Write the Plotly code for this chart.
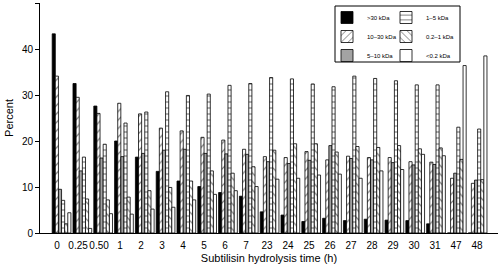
import plotly.graph_objects as go

cats = ["0", "0.25", "0.50", "1", "2", "3", "4", "5", "6", "7", "23", "24",
        "25", "26", "27", "28", "29", "30", "31", "47", "48"]

gt30 = [43.3, 32.5, 27.6, 20.0, 16.5, 13.4, 11.3, 10.1, 8.8, 8.0, 4.6, 3.9,
        2.5, 3.2, 2.7, 3.0, 2.8, 2.7, 2.0, 0, 0]
k10_30 = [34.1, 29.5, 26.0, 28.2, 25.9, 22.8, 22.2, 20.8, 20.2, 18.2, 16.6, 16.4,
          17.7, 15.9, 16.7, 16.4, 16.4, 15.5, 15.4, 11.9, 10.8]
k5_10 = [9.5, 13.5, 16.3, 16.6, 17.3, 18.0, 18.2, 17.3, 17.2, 17.1, 15.5, 15.1,
         15.8, 19.0, 16.2, 15.9, 15.3, 14.8, 14.9, 13.0, 11.5]
k1_5 = [7.1, 16.5, 19.3, 23.9, 26.3, 30.7, 29.9, 30.2, 32.1, 32.5, 33.8, 33.5,
        32.4, 31.8, 34.1, 33.6, 33.1, 32.2, 32.2, 23.0, 22.6]
k02_1 = [2.0, 7.4, 7.2, 7.8, 9.2, 9.9, 11.3, 13.5, 13.0, 14.4, 18.0, 19.4,
         19.4, 17.6, 18.8, 18.6, 19.0, 18.3, 18.5, 16.0, 11.6]
lt02 = [4.4, 1.0, 4.2, 4.1, 5.2, 5.6, 7.2, 8.4, 9.2, 10.1, 11.7, 11.9,
        12.6, 12.8, 11.9, 13.5, 13.8, 17.1, 16.8, 36.4, 38.5]

series = [
    (">30 kDa", gt30, dict(color="black"), "legend"),
    ("10\u201330 kDa", k10_30, dict(color="white", pattern=dict(shape="/", fgcolor="black", bgcolor="white", size=6, solidity=0.2)), "legend"),
    ("5\u201310 kDa", k5_10, dict(color="#a3a3a3"), "legend"),
    ("1\u20135 kDa", k1_5, dict(color="white", pattern=dict(shape="-", fgcolor="black", bgcolor="white", size=6, solidity=0.2)), "legend2"),
    ("0.2\u20131 kDa", k02_1, dict(color="white", pattern=dict(shape="\\", fgcolor="black", bgcolor="white", size=6, solidity=0.2)), "legend2"),
    ("<0.2 kDa", lt02, dict(color="white"), "legend2"),
]

xpos = list(range(len(cats)))
fig = go.Figure()
for name, vals, mk, lg in series:
    marker = dict(mk)
    marker["line"] = dict(color="black", width=0.8)
    fig.add_trace(go.Bar(x=xpos, y=vals, name=name, marker=marker, legend=lg))

tickpos = [i * 1.0096 - 0.216 for i in xpos]

font = "Liberation Sans, Arial, sans-serif"
fig.update_layout(
    width=500, height=266,
    margin=dict(l=40, r=2, t=3, b=33),
    plot_bgcolor="white", paper_bgcolor="white",
    barmode="group", bargap=0.1, bargroupgap=0,
    font=dict(family=font, size=10, color="black"),
    xaxis=dict(range=[-1.036, 20.98], tickmode="array", tickvals=tickpos, ticktext=cats,
               tickangle=0, automargin=False, ticklabelstandoff=3,
               showline=True, linecolor="black", linewidth=1, ticks="", showgrid=False,
               zeroline=False, tickfont=dict(size=10),
               title=dict(text="Subtilisin hydrolysis time (h)", font=dict(size=11), standoff=4)),
    yaxis=dict(range=[0, 50], tickvals=[0, 10, 20, 30, 40, 50], showline=True, linecolor="black",
               linewidth=1, ticks="outside", ticklen=4, tickcolor="black", showgrid=False,
               zeroline=False, tickfont=dict(size=10), automargin=False,
               title=dict(text="Percent", font=dict(size=11), standoff=6)),
    legend=dict(x=(327 - 40) / 458, y=(233 - 3) / 230, xanchor="left", yanchor="top",
                bgcolor="rgba(0,0,0,0)", font=dict(size=6, color="black"), tracegroupgap=0, itemwidth=30),
    legend2=dict(x=(386 - 40) / 458, y=(233 - 3) / 230, xanchor="left", yanchor="top",
                 bgcolor="rgba(0,0,0,0)", font=dict(size=6, color="black"), tracegroupgap=0, itemwidth=30),
    shapes=[dict(type="rect", xref="paper", yref="paper",
                 x0=(335 - 40) / 458, x1=(460 - 40) / 458,
                 y0=(233 - 62) / 230, y1=(233 - 6) / 230,
                 line=dict(color="black", width=1), fillcolor="rgba(0,0,0,0)")],
)

fig.write_html("out.html", config={"displayModeBar": False},
               post_script="document.body.style.margin='0px';")
